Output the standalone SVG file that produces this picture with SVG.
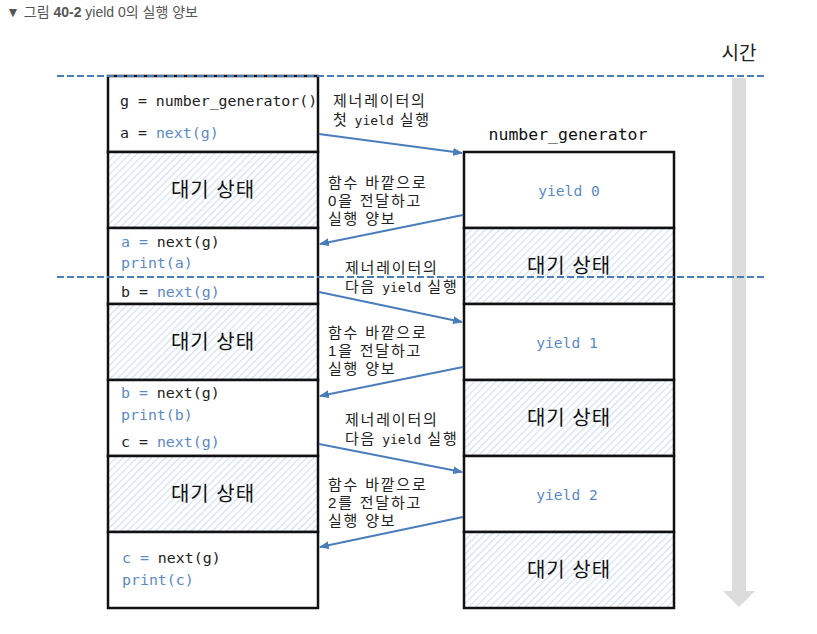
<svg xmlns="http://www.w3.org/2000/svg" width="817" height="634" viewBox="0 0 817 634">
<style>
.code{font-family:"DejaVu Sans Mono","Liberation Mono",monospace;font-size:14.9px;fill:#222}
.b{fill:#5b8ac6}
.lbl{font-family:"Liberation Sans","Noto Sans CJK KR",sans-serif;font-size:15px;fill:#222;letter-spacing:1.8px}
.m{font-family:"DejaVu Sans Mono","Liberation Mono",monospace;font-size:13px;letter-spacing:0}
.wait{font-family:"Liberation Sans","Noto Sans CJK KR",sans-serif;font-size:20px;fill:#111;text-anchor:middle;letter-spacing:1px}
.box{fill:#fff;stroke:#111;stroke-width:2.5}
.hbox{fill:url(#hatch);stroke:#111;stroke-width:2.5}
.conn{stroke:#4a7ebb;stroke-width:2;fill:none;marker-end:url(#ah)}
.dash{stroke:#4a7ebb;stroke-width:2;stroke-dasharray:7 3;fill:none}
.yl{font-family:"DejaVu Sans Mono","Liberation Mono",monospace;font-size:14.6px;fill:#5b8ac6;text-anchor:middle}
</style>
<defs>
<pattern id="hatch" patternUnits="userSpaceOnUse" width="5" height="5" patternTransform="rotate(45)">
<rect width="5" height="5" fill="#fff"/>
<line x1="0" y1="0" x2="0" y2="5" stroke="#d3e0f0" stroke-width="2.4"/>
</pattern>
<marker id="ah" markerWidth="10" markerHeight="8" refX="9" refY="4" orient="auto" markerUnits="userSpaceOnUse">
<path d="M0,0 L10,4 L0,8 Z" fill="#4a7ebb"/>
</marker>
</defs>
<rect width="817" height="634" fill="#fff"/>
<g id="title">
<text x="6" y="17" font-family="'Liberation Sans','Noto Sans CJK KR',sans-serif" font-size="14" fill="#555">▼ 그림 <tspan font-weight="bold">40-2</tspan> yield 0의 실행 양보</text>
</g>
<g id="time">
<rect x="732" y="78" width="14" height="514" fill="#dcdcdc"/>
<path d="M723,591 L755,591 L739,607 Z" fill="#dcdcdc"/>
<text x="739" y="60" font-family="'Liberation Sans','Noto Sans CJK KR',sans-serif" font-size="19" fill="#222" text-anchor="middle">시간</text>
</g>
<g id="main-col">
<rect class="box" x="108" y="76" width="210" height="76"/>
<text class="code" x="120" y="106">g = number_generator()</text>
<text class="code" x="120" y="138">a = <tspan class="b">next(g)</tspan></text>
<rect class="hbox" x="108" y="152" width="210" height="76"/>
<text class="wait" x="213" y="197">대기 상태</text>
<rect class="box" x="108" y="228" width="210" height="76"/>
<text class="code" x="121" y="247"><tspan class="b">a =</tspan> next(g)</text>
<text class="code b" x="121" y="268">print(a)</text>
<text class="code" x="121" y="297">b = <tspan class="b">next(g)</tspan></text>
<rect class="hbox" x="108" y="304" width="210" height="76"/>
<text class="wait" x="213" y="349">대기 상태</text>
<rect class="box" x="108" y="380" width="210" height="76"/>
<text class="code" x="121" y="398"><tspan class="b">b =</tspan> next(g)</text>
<text class="code b" x="121" y="420">print(b)</text>
<text class="code" x="121" y="447">c = <tspan class="b">next(g)</tspan></text>
<rect class="hbox" x="108" y="456" width="210" height="76"/>
<text class="wait" x="213" y="501">대기 상태</text>
<rect class="box" x="108" y="532" width="210" height="76"/>
<text class="code" x="122" y="563"><tspan class="b">c =</tspan> next(g)</text>
<text class="code b" x="122" y="585">print(c)</text>
</g>
<g id="gen-col">
<text x="568" y="140" font-family="'DejaVu Sans Mono','Liberation Mono',monospace" font-size="16.5" fill="#111" text-anchor="middle">number_generator</text>
<rect class="box" x="464" y="152" width="210" height="76"/>
<text class="yl" x="569" y="196">yield 0</text>
<rect class="hbox" x="464" y="228" width="210" height="76"/>
<text class="wait" x="569" y="273">대기 상태</text>
<rect class="box" x="464" y="304" width="210" height="76"/>
<text class="yl" x="567" y="348">yield 1</text>
<rect class="hbox" x="464" y="380" width="210" height="76"/>
<text class="wait" x="569" y="425">대기 상태</text>
<rect class="box" x="464" y="456" width="210" height="76"/>
<text class="yl" x="567" y="500">yield 2</text>
<rect class="hbox" x="464" y="532" width="210" height="76"/>
<text class="wait" x="569" y="577">대기 상태</text>
</g>
<g id="timelines">
<line class="dash" x1="57" y1="76" x2="767" y2="76"/>
<line class="dash" x1="57" y1="277" x2="767" y2="277"/>
</g>
<g id="connectors">
<line class="conn" x1="319" y1="134" x2="462" y2="153"/>
<line class="conn" x1="463" y1="215" x2="320" y2="244"/>
<line class="conn" x1="319" y1="292" x2="462" y2="322"/>
<line class="conn" x1="463" y1="367" x2="320" y2="396"/>
<line class="conn" x1="319" y1="444" x2="462" y2="472"/>
<line class="conn" x1="463" y1="517" x2="320" y2="547"/>
</g>
<g id="labels">
<text class="lbl" x="333" y="106">제너레이터의</text>
<text class="lbl" x="333" y="125">첫 <tspan class="m">yield</tspan> 실행</text>
<text class="lbl" x="328" y="188">함수 바깥으로</text>
<text class="lbl" x="328" y="206">0을 전달하고</text>
<text class="lbl" x="328" y="224">실행 양보</text>
<text class="lbl" x="345" y="273">제너레이터의</text>
<text class="lbl" x="345" y="292">다음 <tspan class="m">yield</tspan> 실행</text>
<text class="lbl" x="328" y="338">함수 바깥으로</text>
<text class="lbl" x="328" y="356">1을 전달하고</text>
<text class="lbl" x="328" y="374">실행 양보</text>
<text class="lbl" x="345" y="425">제너레이터의</text>
<text class="lbl" x="345" y="444">다음 <tspan class="m">yield</tspan> 실행</text>
<text class="lbl" x="328" y="490">함수 바깥으로</text>
<text class="lbl" x="328" y="508">2를 전달하고</text>
<text class="lbl" x="328" y="526">실행 양보</text>
</g>
</svg>
